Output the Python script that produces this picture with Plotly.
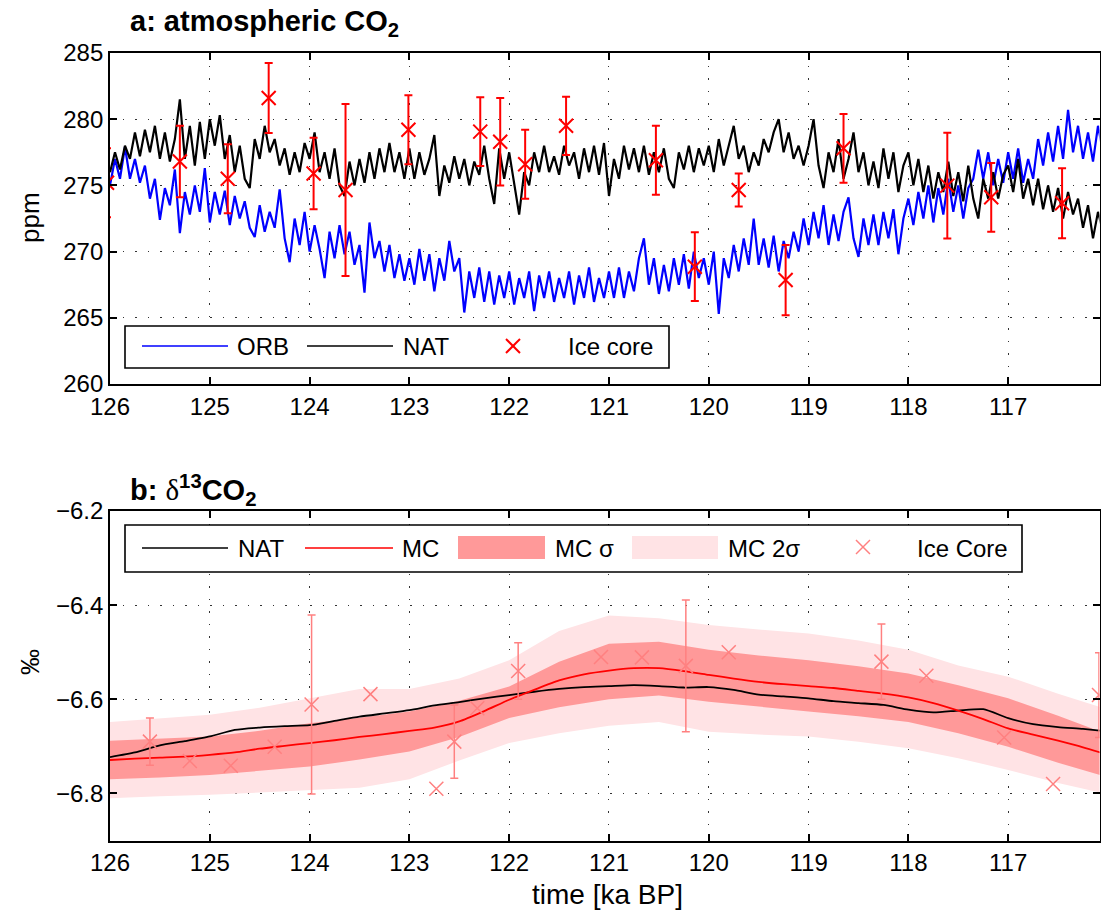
import numpy as np
import plotly.graph_objects as go

# ---------------- panel a: atmospheric CO2 ----------------
t_co2 = np.round(126.0 - 0.05 * np.arange(200), 2)

co2_nat = [
    276.0, 277.5, 276.2, 278.0, 277.0, 279.0, 277.2, 279.2, 277.5, 279.5, 277.0, 279.0, 276.8, 278.5, 281.5, 277.0, 279.5, 276.5, 279.8, 277.0,
    280.0, 278.0, 280.3, 277.0, 278.8, 276.0, 278.0, 275.5, 274.8, 278.5, 277.0, 279.5, 277.5, 278.5, 276.5, 277.8, 275.8, 277.5, 276.0, 278.2,
    277.0, 279.0, 276.0, 277.5, 275.5, 277.8, 275.0, 274.2, 276.8, 275.0, 277.0, 275.2, 277.5, 275.5, 277.8, 276.0, 278.2, 276.0, 277.5, 275.5,
    277.8, 275.5, 277.5, 275.8, 277.0, 278.8, 274.2, 276.5, 275.2, 277.2, 275.5, 277.0, 275.0, 276.8, 275.8, 278.0, 275.5, 273.6, 277.8, 275.5,
    277.5, 275.0, 272.8, 276.0, 275.0, 277.5, 276.0, 278.0, 276.0, 277.2, 275.8, 278.0, 276.5, 277.5, 275.5, 277.8, 276.0, 278.0, 275.8, 278.2,
    274.2, 277.0, 275.5, 278.0, 276.2, 277.8, 276.0, 278.0, 275.8, 277.5, 276.0, 277.8, 275.5, 274.8, 277.5, 276.2, 278.0, 276.0, 277.8, 276.5,
    278.0, 276.0, 278.5, 276.5, 278.0, 279.5, 277.0, 278.0, 276.0, 277.5, 276.5, 278.5, 277.5, 279.0, 280.0, 277.5, 279.0, 277.0, 278.0, 276.5,
    278.0, 280.0, 276.5, 274.8, 277.5, 276.0, 278.5, 275.5, 277.0, 279.0, 276.0, 277.5, 275.0, 276.8, 274.8, 277.8, 275.5, 277.5, 274.5, 276.5,
    277.5, 275.0, 277.0, 274.5, 276.5, 274.0, 276.0, 274.5, 276.8, 274.2, 276.0, 273.8, 276.5, 274.0, 272.5, 275.5, 274.0, 276.0, 274.0, 275.8,
    276.5, 274.5, 277.0, 274.0, 275.5, 273.5, 275.5, 273.2, 275.0, 273.0, 274.8, 272.5, 274.5, 272.8, 274.0, 271.8, 273.5, 271.0, 273.0, 271.5,
]

co2_orb = [
    275.0, 277.0, 275.5, 277.9, 275.5, 277.0, 275.2, 276.5, 274.0, 275.5, 272.4, 274.8, 273.5, 276.2, 271.4, 274.5, 272.8, 275.0, 273.0, 276.3,
    272.2, 274.5, 272.8, 274.6, 272.0, 274.2, 272.5, 273.8, 271.8, 271.1, 273.5, 271.5, 273.0, 271.8, 274.7, 271.0, 269.2, 272.5, 270.5, 273.0,
    270.0, 272.0, 270.2, 268.0, 271.5, 269.5, 272.0, 269.8, 271.5, 269.0, 270.5, 266.9, 272.2, 269.5, 270.8, 268.5, 270.5, 268.0, 269.8, 267.8,
    269.5, 267.5, 270.2, 267.8, 269.8, 267.0, 269.5, 267.8, 270.8, 268.5, 269.5, 265.4, 268.5, 266.5, 268.8, 266.2, 268.5, 266.0, 268.2, 266.5,
    268.5, 266.0, 268.0, 266.5, 268.5, 265.5, 268.2, 266.5, 268.5, 266.2, 268.0, 266.5, 268.5, 266.0, 268.2, 266.5, 268.8, 266.2, 268.0, 266.5,
    268.5, 266.5, 268.8, 266.5, 268.5, 267.0, 269.5, 271.0, 267.5, 269.5, 266.8, 269.0, 267.0, 269.5, 267.5, 269.8, 267.2, 270.0, 268.0, 269.5,
    267.5, 270.0, 265.3, 269.5, 268.0, 270.5, 268.5, 271.0, 269.0, 272.5, 269.0, 271.0, 268.8, 271.2, 268.5, 270.8, 269.5, 271.5, 270.0, 272.5,
    270.5, 273.0, 271.0, 273.5, 270.5, 272.8, 270.8, 273.0, 274.1, 271.0, 269.6, 272.5, 270.5, 272.8, 270.5, 273.0, 271.0, 273.2, 269.8, 272.5,
    274.0, 272.0, 274.5, 272.5, 275.0, 272.2, 274.8, 272.8, 275.5, 273.0, 275.0, 272.5, 274.8, 275.5, 277.7, 275.5, 277.5, 275.0, 277.0, 275.2,
    277.5, 275.5, 277.8, 275.2, 277.0, 275.5, 278.5, 276.5, 279.0, 276.8, 279.5, 277.0, 280.7, 277.5, 279.5, 277.0, 279.0, 276.8, 279.5, 277.5,
]

t_ice_co2 = [126.03, 125.30, 124.82, 124.41, 123.96, 123.64, 123.01, 122.29, 122.09, 121.84,
             121.43, 120.53, 120.14, 119.70, 119.23, 118.65, 117.61, 117.17, 116.46]
co2_ice = [275.2, 276.8, 275.5, 281.6, 275.9, 274.65, 279.2, 279.06, 278.3, 276.6,
           279.5, 276.9, 268.86, 274.65, 267.85, 277.8, 274.98, 274.1, 273.65]
co2_ice_err = [2.6, 2.7, 2.6, 2.65, 2.7, 6.5, 2.6, 2.6, 3.3, 2.6,
               2.2, 2.6, 2.6, 1.25, 2.65, 2.6, 4.0, 2.6, 2.65]

# ---------------- panel b: d13CO2 ----------------
t_d13 = np.round(126.0 - 0.25 * np.arange(41), 2)
d13_nat = [-6.723, -6.713, -6.698, -6.689, -6.679, -6.665, -6.660, -6.657, -6.655, -6.646,
           -6.637, -6.630, -6.623, -6.613, -6.606, -6.598, -6.591, -6.584, -6.578, -6.574,
           -6.572, -6.570, -6.572, -6.575, -6.574, -6.580, -6.590, -6.594, -6.598, -6.604,
           -6.608, -6.612, -6.622, -6.628, -6.624, -6.621, -6.640, -6.653, -6.659, -6.663, -6.668]
d13_mc = [-6.729, -6.726, -6.724, -6.722, -6.718, -6.713, -6.705, -6.699, -6.693, -6.687,
          -6.680, -6.674, -6.667, -6.660, -6.647, -6.625, -6.601, -6.580, -6.560, -6.547,
          -6.539, -6.534, -6.534, -6.540, -6.548, -6.556, -6.563, -6.568, -6.572, -6.576,
          -6.582, -6.588, -6.596, -6.608, -6.624, -6.642, -6.662, -6.675, -6.688, -6.702, -6.718]

t_band = np.round(126.0 - 0.5 * np.arange(21), 1)
mc_2s_hi = [-6.648, -6.640, -6.633, -6.618, -6.598, -6.578, -6.578, -6.556, -6.517, -6.455, -6.422,
            -6.428, -6.442, -6.452, -6.460, -6.475, -6.495, -6.528, -6.552, -6.588, -6.622]
mc_1s_hi = [-6.688, -6.684, -6.679, -6.667, -6.651, -6.639, -6.626, -6.603, -6.573, -6.520, -6.482,
            -6.478, -6.495, -6.507, -6.517, -6.530, -6.545, -6.570, -6.598, -6.635, -6.675]
mc_1s_lo = [-6.770, -6.766, -6.761, -6.752, -6.743, -6.728, -6.711, -6.680, -6.640, -6.617, -6.600,
            -6.592, -6.605, -6.616, -6.626, -6.636, -6.648, -6.672, -6.701, -6.735, -6.766]
mc_2s_lo = [-6.810, -6.806, -6.803, -6.798, -6.793, -6.788, -6.770, -6.730, -6.693, -6.672, -6.656,
            -6.648, -6.669, -6.675, -6.679, -6.690, -6.704, -6.725, -6.750, -6.778, -6.802]

t_ice_d13 = [125.60, 125.20, 124.79, 124.35, 123.98, 123.39, 122.73, 122.55, 122.32, 121.91,
             121.08, 120.67, 120.23, 119.80, 118.27, 117.82, 117.04, 116.55, 116.09]
d13_ice = [-6.690, -6.731, -6.741, -6.701, -6.611, -6.589, -6.790, -6.690, -6.619, -6.540,
           -6.510, -6.511, -6.529, -6.500, -6.520, -6.550, -6.681, -6.780, -6.591]
t_ice_d13_err = [125.60, 123.98, 122.55, 121.91, 120.23, 118.27, 116.09]
d13_ice_err_val = [-6.690, -6.611, -6.690, -6.540, -6.529, -6.520, -6.591]
d13_ice_err = [0.050, 0.190, 0.078, 0.060, 0.140, 0.080, 0.090]

xticks = [126, 125, 124, 123, 122, 121, 120, 119, 118, 117]

# ---------------- styling ----------------
FONT = "Liberation Sans, Arial, Helvetica, sans-serif"
FS = 24
RED = "#FF0000"
LRED = "#FF8080"
DARK_BAND = "#FF9999"
LIGHT_BAND = "#FFE3E5"

W, H = 1101, 923
x0, x1 = 110 / W, 1099.5 / W
a_dom = [1 - 384 / H, 1 - 53 / H]
b_dom = [1 - 840.5 / H, 1 - 511 / H]


def px(x):
    return x / W


def py(y):
    return 1 - y / H


fig = go.Figure()

# panel a traces
fig.add_trace(go.Scatter(x=t_co2, y=co2_orb, mode="lines", name="ORB",
                         line=dict(color="#0000FF", width=2.2), xaxis="x", yaxis="y"))
fig.add_trace(go.Scatter(x=t_co2, y=co2_nat, mode="lines", name="NAT",
                         line=dict(color="#000000", width=2.2), xaxis="x", yaxis="y"))
fig.add_trace(go.Scatter(x=t_ice_co2, y=co2_ice, mode="markers", name="Ice core",
                         marker=dict(symbol="x-thin", size=14, line=dict(color=RED, width=2)),
                         error_y=dict(type="data", array=co2_ice_err, color=RED,
                                      thickness=2, width=4),
                         xaxis="x", yaxis="y"))

# panel b traces
fig.add_trace(go.Scatter(x=list(t_band) + list(t_band[::-1]),
                         y=mc_2s_hi + mc_2s_lo[::-1], fill="toself",
                         fillcolor=LIGHT_BAND, line=dict(width=0), mode="lines",
                         name="MC 2\u03c3", xaxis="x2", yaxis="y2", hoverinfo="skip"))
fig.add_trace(go.Scatter(x=list(t_band) + list(t_band[::-1]),
                         y=mc_1s_hi + mc_1s_lo[::-1], fill="toself",
                         fillcolor=DARK_BAND, line=dict(width=0), mode="lines",
                         name="MC \u03c3", xaxis="x2", yaxis="y2", hoverinfo="skip"))
fig.add_trace(go.Scatter(x=t_d13, y=d13_nat, mode="lines", name="NAT",
                         line=dict(color="#000000", width=1.8, shape="spline", smoothing=0.6),
                         xaxis="x2", yaxis="y2"))
fig.add_trace(go.Scatter(x=t_d13, y=d13_mc, mode="lines", name="MC",
                         line=dict(color=RED, width=1.8, shape="spline", smoothing=0.6),
                         xaxis="x2", yaxis="y2"))
fig.add_trace(go.Scatter(x=t_ice_d13_err, y=d13_ice_err_val, mode="markers",
                         marker=dict(size=1, color="rgba(0,0,0,0)"),
                         error_y=dict(type="data", array=d13_ice_err, color=LRED,
                                      thickness=1.5, width=4),
                         xaxis="x2", yaxis="y2", hoverinfo="skip"))
fig.add_trace(go.Scatter(x=t_ice_d13, y=d13_ice, mode="markers", name="Ice Core",
                         marker=dict(symbol="x-thin", size=14, line=dict(color=LRED, width=1.5)),
                         xaxis="x2", yaxis="y2"))

axis_common = dict(showline=True, linecolor="black", linewidth=1.8, mirror="ticks",
                   ticks="inside", ticklen=7, tickwidth=1.5, tickcolor="black",
                   showgrid=True, gridcolor="#333333", gridwidth=1.2, griddash="1.5px,11px",
                   zeroline=False, automargin=False,
                   tickfont=dict(family=FONT, size=FS, color="black"))

# ---------------- hand-drawn legends (box, swatches, crosses) ----------------
shapes = []
annotations = []


def legend_box(xa, ya, xb, yb):
    shapes.append(dict(type="rect", xref="paper", yref="paper", x0=px(xa), x1=px(xb),
                       y0=py(yb), y1=py(ya), fillcolor="white",
                       line=dict(color="black", width=1.6), layer="above"))


def legend_line(xa, xb, y, color):
    shapes.append(dict(type="line", xref="paper", yref="paper", x0=px(xa), x1=px(xb),
                       y0=py(y), y1=py(y), line=dict(color=color, width=1.6), layer="above"))


def legend_patch(xa, xb, ya, yb, color):
    shapes.append(dict(type="rect", xref="paper", yref="paper", x0=px(xa), x1=px(xb),
                       y0=py(yb), y1=py(ya), fillcolor=color, line=dict(width=0), layer="above"))


def legend_cross(xc, yc, color, width, r=7):
    shapes.append(dict(type="line", xref="paper", yref="paper", x0=px(xc - r), x1=px(xc + r),
                       y0=py(yc - r), y1=py(yc + r), line=dict(color=color, width=width),
                       layer="above"))
    shapes.append(dict(type="line", xref="paper", yref="paper", x0=px(xc - r), x1=px(xc + r),
                       y0=py(yc + r), y1=py(yc - r), line=dict(color=color, width=width),
                       layer="above"))


def legend_text(x, y, text):
    annotations.append(dict(text=text, x=px(x), y=py(y), xref="paper", yref="paper",
                            xanchor="left", yanchor="middle", showarrow=False,
                            font=dict(family=FONT, size=FS, color="black")))


# legend of panel a
legend_box(125, 326, 669, 368)
legend_line(142, 228, 346, "#0000FF")
legend_text(235, 346, "ORB")
legend_line(307, 393, 346, "#000000")
legend_text(401, 346, "NAT")
legend_cross(513, 346, RED, 2)
legend_text(566, 346, "Ice core")

# legend of panel b
legend_box(125, 525, 1022, 572)
legend_line(142, 228, 548, "#000000")
legend_text(236, 548, "NAT")
legend_line(305, 393, 548, RED)
legend_text(400, 548, "MC")
legend_patch(458, 545, 536, 559, DARK_BAND)
legend_text(553, 548, "MC \u03c3")
legend_patch(632, 718, 536, 559, LIGHT_BAND)
legend_text(726, 548, "MC 2\u03c3")
legend_cross(863, 547, LRED, 1.5)
legend_text(915, 548, "Ice Core")

# titles and axis labels
annotations += [
    dict(text="<b>a: atmospheric CO<sub>2</sub></b>", x=px(128), y=py(23),
         xref="paper", yref="paper", xanchor="left", yanchor="middle", showarrow=False,
         font=dict(family=FONT, size=29, color="black")),
    dict(text="<b>b:</b> <span style='font-family:Liberation Serif, DejaVu Serif, serif'>\u03b4</span>"
              "<b><sup>13</sup>CO<sub>2</sub></b>",
         x=px(128), y=py(490),
         xref="paper", yref="paper", xanchor="left", yanchor="middle", showarrow=False,
         font=dict(family=FONT, size=29, color="black")),
    dict(text="ppm", x=px(30), y=py(218), xref="paper", yref="paper",
         textangle=-90, showarrow=False, xanchor="center", yanchor="middle",
         font=dict(family=FONT, size=26, color="black")),
    dict(text="\u2030", x=px(30), y=py(662), xref="paper", yref="paper",
         textangle=-90, showarrow=False, xanchor="center", yanchor="middle",
         font=dict(family=FONT, size=26, color="black")),
    dict(text="time [ka BP]", x=px(607), y=py(894), xref="paper", yref="paper",
         showarrow=False, xanchor="center", yanchor="middle",
         font=dict(family=FONT, size=28, color="black")),
]

fig.update_layout(
    width=W, height=H, margin=dict(l=0, r=0, t=0, b=0, autoexpand=False),
    paper_bgcolor="white", plot_bgcolor="white",
    font=dict(family=FONT, size=FS, color="black"),
    showlegend=False,
    xaxis=dict(domain=[x0, x1], range=[126, 116.085], tickvals=xticks, anchor="y", **axis_common),
    yaxis=dict(domain=a_dom, range=[260, 285], tickvals=[260, 265, 270, 275, 280, 285],
               anchor="x", **axis_common),
    xaxis2=dict(domain=[x0, x1], range=[126, 116.085], tickvals=xticks, anchor="y2", **axis_common),
    yaxis2=dict(domain=b_dom, range=[-6.9, -6.2], tickvals=[-6.8, -6.6, -6.4, -6.2],
                ticktext=["\u22126.8", "\u22126.6", "\u22126.4", "\u22126.2"],
                anchor="x2", **axis_common),
    shapes=shapes,
    annotations=annotations,
)

fig.write_html("out.html")
